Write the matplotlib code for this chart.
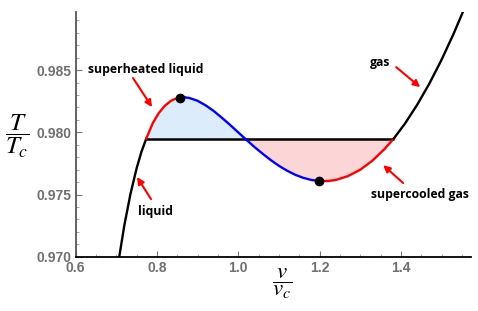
import matplotlib
matplotlib.use("Agg")
import matplotlib.pyplot as plt
import numpy as np

# reduced volume / temperature
v_liq = [0.705, 0.72, 0.735, 0.75, 0.762, 0.774]
T_liq = [0.96948, 0.97252, 0.97503, 0.97708, 0.97843, 0.9795]

v_sh = [0.774, 0.79, 0.805, 0.82, 0.835, 0.845, 0.856]
T_sh = [0.9795, 0.98074, 0.98156, 0.98215, 0.98254, 0.98269, 0.98279]

v_un = [0.856, 0.868, 0.88, 0.90, 0.92, 0.94, 0.96, 0.98, 1.0, 1.0167,
        1.04, 1.06, 1.08, 1.10, 1.12, 1.14, 1.16, 1.18, 1.198]
T_un = [0.98279, 0.98282, 0.98276, 0.98254, 0.98217, 0.98171, 0.98117, 0.98060,
        0.98000, 0.9795, 0.97882, 0.97828, 0.97777, 0.97731, 0.97692, 0.97659,
        0.97634, 0.97617, 0.97609]

v_sc = [1.198, 1.22, 1.24, 1.27, 1.30, 1.33, 1.36, 1.3825]
T_sc = [0.97609, 0.97608, 0.97617, 0.97648, 0.97699, 0.97772, 0.97866, 0.9795]

v_gas = [1.3825, 1.41, 1.44, 1.47, 1.50, 1.53, 1.56]
T_gas = [0.9795, 0.98070, 0.98221, 0.98392, 0.98583, 0.98795, 0.99026]

T_coex = 0.9795
v_dots = [0.856, 1.198]
T_dots = [0.98279, 0.97609]

x_ticks = [0.6, 0.8, 1.0, 1.2, 1.4]
y_ticks = [0.970, 0.975, 0.980, 0.985]

plt.rcParams['mathtext.fontset'] = 'stix'

fig = plt.figure(figsize=(4.78, 3.11), dpi=100)
ax = fig.add_axes([0.158, 0.1746, 0.827, 0.7878])

# shaded areas between the loop and the coexistence line
v_fill = np.array(v_sh + v_un[1:] + v_sc[1:])
T_fill = np.array(T_sh + T_un[1:] + T_sc[1:])
ax.fill_between(v_fill, T_fill, T_coex, where=T_fill >= T_coex, interpolate=True,
                color='#dcecfa', lw=0)
ax.fill_between(v_fill, T_fill, T_coex, where=T_fill <= T_coex, interpolate=True,
                color='#fcd6d6', lw=0)

ax.hlines(T_coex, v_liq[-1], v_gas[0], color='black', lw=1.8, zorder=3)

ax.plot(v_liq, T_liq, color='black', lw=1.7, zorder=4)
ax.plot(v_sh, T_sh, color='red', lw=1.7, zorder=4)
ax.plot(v_un, T_un, color='blue', lw=1.7, zorder=4)
ax.plot(v_sc, T_sc, color='red', lw=1.7, zorder=4)
ax.plot(v_gas, T_gas, color='black', lw=1.7, zorder=4)
ax.plot(v_dots, T_dots, 'o', color='black', ms=6, zorder=5)

# labels with red arrows
lab = dict(fontsize=8.8, fontweight='bold', family='Open Sans', ha='center', va='center')
arr = dict(arrowstyle='-|>', color='red', lw=1.5, mutation_scale=10, shrinkA=0, shrinkB=0)
ax.text(0.7734, 0.98508, 'superheated liquid', **lab)
ax.annotate('', xy=(0.7882, 0.98203), xytext=(0.7415, 0.98436), arrowprops=arr)
ax.text(0.7956, 0.97367, 'liquid', **lab)
ax.annotate('', xy=(0.7513, 0.97640), xytext=(0.7857, 0.97463), arrowprops=arr)
ax.text(1.349, 0.98564, 'gas', **lab)
ax.annotate('', xy=(1.4475, 0.98363), xytext=(1.3885, 0.98524), arrowprops=arr)
ax.text(1.4475, 0.97503, 'supercooled gas', **lab)
ax.annotate('', xy=(1.3565, 0.97736), xytext=(1.4057, 0.97592), arrowprops=arr)

ax.set_xlim(0.6, 1.572)
ax.set_ylim(0.970, 0.9897)
ax.set_xticks(x_ticks)
ax.set_xticklabels([f'{t:.1f}' for t in x_ticks])
ax.set_yticks(y_ticks)
ax.set_yticklabels([f'{t:.3f}' for t in y_ticks])
ax.set_xticks(np.arange(0.6, 1.571, 0.05), minor=True)
ax.set_yticks(np.arange(0.970, 0.9897, 0.001), minor=True)

for s in ['top', 'right']:
    ax.spines[s].set_visible(False)
ax.spines['left'].set_color('#555555')
ax.spines['bottom'].set_color('black')
ax.spines['left'].set_linewidth(1.3)
ax.spines['bottom'].set_linewidth(1.3)
ax.tick_params(which='major', direction='in', length=4, color='#777777', width=0.8,
               labelsize=10, labelcolor='#707070', pad=3)
ax.tick_params(which='minor', direction='in', length=2, color='#999999', width=0.6)
for lbl in ax.get_xticklabels() + ax.get_yticklabels():
    lbl.set_fontweight('bold')
    lbl.set_family('Liberation Sans')

fig.text(17 / 478, 1 - 136 / 311, r'$\dfrac{T}{T_c}$', ha='center', va='center', fontsize=18)
fig.text(282 / 478, 1 - 284 / 311, r'$\dfrac{v}{v_c}$', ha='center', va='center', fontsize=16.5)

fig.savefig('out.png', dpi=100)
